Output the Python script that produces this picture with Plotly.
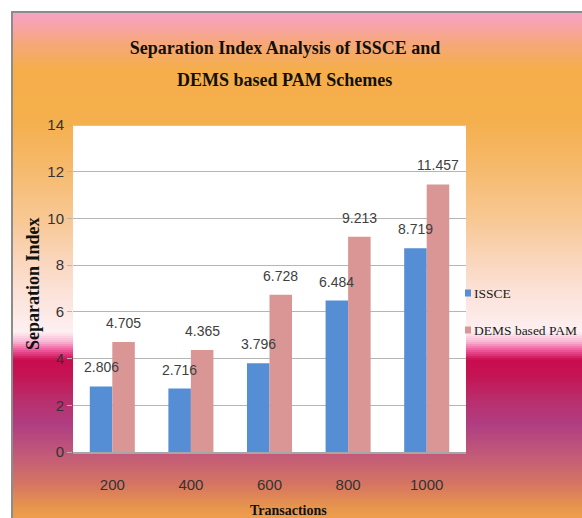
import plotly.graph_objects as go

# ---- data -------------------------------------------------------------
categories = ["200", "400", "600", "800", "1000"]
issce = [2.806, 2.716, 3.796, 6.484, 8.719]
dems_pam = [4.705, 4.365, 6.728, 9.213, 11.457]
y_tick_values = [0, 2, 4, 6, 8, 10, 12, 14]

series_names = ["ISSCE", "DEMS based PAM"]
series_colors = ["#558ED5", "#D99694"]

# ---- geometry ---------------------------------------------------------
W, H = 582, 518
ML, MR, MT, MB = 73, 116, 125, 66
PW, PH = W - ML - MR, H - MT - MB
BARGAP = 0.427
GRID = "#B5B5B5"


def px_x(x):
    return (x - ML) / PW


def px_y(y):
    return (H - MB - y) / PH


NARROW = "Liberation Sans Narrow, Arial Narrow, Liberation Sans, sans-serif"
SERIF = "Liberation Serif, Times New Roman, serif"

# vertical background gradient (pixel row, colour)
grad_stops = [
    (12, "#F9A2C6"), (25, "#F8A3AC"), (45, "#F6A878"), (70, "#F5AE4A"),
    (120, "#F5AF4C"), (170, "#F6BA6E"), (220, "#F8C894"), (260, "#FAD6BC"),
    (295, "#FCE3DA"), (332, "#FDF0F2"), (342, "#F8B4D2"), (350, "#EE5A9C"),
    (360, "#C80C4E"), (376, "#C41454"), (400, "#B92E6C"), (425, "#B03E82"),
    (455, "#C25A78"), (485, "#D67662"), (505, "#E6924F"), (520, "#F0A04C"),
]


def hex_rgb(h):
    h = h.lstrip("#")
    return tuple(int(h[i:i + 2], 16) for i in (0, 2, 4))


def grad_color(y):
    for (y0, c0), (y1, c1) in zip(grad_stops, grad_stops[1:]):
        if y0 <= y <= y1:
            t = (y - y0) / (y1 - y0)
            a, b = hex_rgb(c0), hex_rgb(c1)
            return "rgb(%d,%d,%d)" % tuple(round(a[k] + (b[k] - a[k]) * t) for k in range(3))
    return grad_stops[-1][1]


shapes = []
step = 2
for y in range(12, 520, step):
    shapes.append(dict(
        type="rect", xref="paper", yref="paper", layer="below",
        x0=px_x(12), x1=px_x(W + 2), y0=px_y(y + step + 0.5), y1=px_y(y),
        fillcolor=grad_color(y + step / 2), line=dict(width=0),
    ))

# white plotting area
shapes.append(dict(type="rect", xref="paper", yref="paper", layer="below",
                   x0=0, x1=1, y0=0, y1=1, fillcolor="white", line=dict(width=0)))

# gridline at the top of the value range
shapes.append(dict(type="line", xref="paper", yref="y", layer="above",
                   x0=0, x1=1, y0=y_tick_values[-1], y1=y_tick_values[-1],
                   line=dict(color=GRID, width=1.3)))

# chart frame
shapes.append(dict(type="rect", xref="paper", yref="paper", layer="above",
                   x0=px_x(12), x1=px_x(W + 5), y0=px_y(H + 5), y1=px_y(12),
                   fillcolor="rgba(0,0,0,0)", line=dict(color="#8C8C8C", width=2)))

fig = go.Figure()
for name, vals, col in zip(series_names, [issce, dems_pam], series_colors):
    fig.add_trace(go.Bar(x=categories, y=vals, name=name, marker_color=col,
                         marker_line_width=0))

annotations = []
# value labels above each bar (x given as category index)
bar_px = PW / len(categories) * (1 - BARGAP) / 2
for k, vals in enumerate([issce, dems_pam]):
    shift = (k - 0.5) * bar_px
    for i, v in enumerate(vals):
        annotations.append(dict(
            x=i, y=v, xref="x", yref="y", text=f"{v:.3f}", showarrow=False,
            xshift=shift, yshift=9, yanchor="bottom", xanchor="center",
            font=dict(family=NARROW, size=14, color="#404040"),
        ))

# legend
legend_rows = [293, 330]
for name, col, yc in zip(series_names, series_colors, legend_rows):
    shapes.append(dict(type="rect", xref="paper", yref="paper", layer="above",
                       x0=px_x(465), x1=px_x(471), y0=px_y(yc + 3.5), y1=px_y(yc - 3.5),
                       fillcolor=col, line=dict(width=0)))
    annotations.append(dict(
        x=px_x(472), y=px_y(yc), xref="paper", yref="paper", text=name,
        showarrow=False, xanchor="left", yanchor="middle",
        font=dict(family=SERIF, size=13.5, color="#1A1A1A"),
    ))

# second title line
annotations.append(dict(
    x=px_x(284), y=px_y(80), xref="paper", yref="paper",
    text="<b>DEMS based PAM Schemes</b>",
    showarrow=False, xanchor="center", yanchor="middle",
    font=dict(family=SERIF, size=18, color="#111111"),
))

# axis titles
annotations.append(dict(
    x=px_x(288), y=px_y(510), xref="paper", yref="paper", text="<b>Transactions</b>",
    showarrow=False, xanchor="center", yanchor="middle",
    font=dict(family=SERIF, size=14, color="#111111"),
))
annotations.append(dict(
    x=px_x(33), y=px_y(284), xref="paper", yref="paper", text="<b>Separation Index</b>",
    showarrow=False, xanchor="center", yanchor="middle", textangle=-90,
    font=dict(family=SERIF, size=18, color="#111111"),
))

fig.update_layout(
    width=W, height=H,
    margin=dict(l=ML, r=MR, t=MT, b=MB, pad=0),
    paper_bgcolor="white", plot_bgcolor="white",
    barmode="group", bargap=BARGAP, bargroupgap=0,
    showlegend=False,
    title=dict(
        text="<b>Separation Index Analysis of ISSCE and</b>",
        x=px_x(285), xref="paper", xanchor="center",
        y=1 - 48 / H, yref="container", yanchor="middle",
        font=dict(family=SERIF, size=18, color="#111111"),
    ),
    shapes=shapes,
    annotations=annotations,
)

fig.update_xaxes(
    type="category", range=[-0.5, len(categories) - 0.5],
    showgrid=False, showline=True, linecolor="#A6A6A6", linewidth=1.5,
    ticks="", ticklabelstandoff=18,
    tickfont=dict(family=NARROW, size=15, color="#333333"),
)
fig.update_yaxes(
    range=[0, 14], tickvals=y_tick_values, showgrid=True, gridcolor=GRID, gridwidth=1.3,
    ticks="outside", ticklen=5, tickcolor=GRID, tickwidth=1.3,
    zeroline=False, showline=False,
    tickfont=dict(family=NARROW, size=15, color="#333333"),
)

fig.write_html("out.html")
